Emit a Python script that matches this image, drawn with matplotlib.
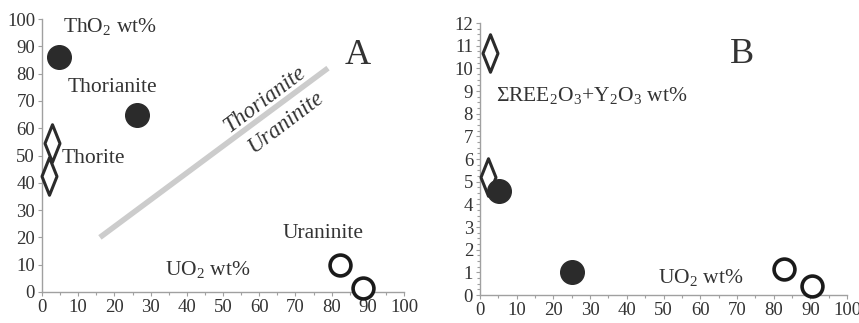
import numpy as np
import matplotlib
matplotlib.use('Agg')
from matplotlib import pyplot as plt
from matplotlib.path import Path
from matplotlib.ticker import MultipleLocator

plt.rcParams['font.family'] = ['Liberation Serif', 'DejaVu Serif']
plt.rcParams['mathtext.fontset'] = 'custom'
plt.rcParams['mathtext.rm'] = 'Liberation Serif'

# ---- panel A: ThO2 vs UO2 ----
thorite_uo2_a = [2.7, 2.0]
thorite_tho2_a = [54.6, 42.5]
thorianite_uo2_a = [4.7, 26.2]
thorianite_tho2_a = [86, 65]
uraninite_uo2_a = [82.3, 88.7]
uraninite_tho2_a = [9.9, 1.4]
divider_uo2 = [16, 79]
divider_tho2 = [20, 82]

# ---- panel B: REE2O3+Y2O3 vs UO2 ----
thorite_uo2_b = [2.7, 2.3]
thorite_ree_b = [10.66, 5.22]
thorianite_uo2_b = [5.3, 25.2]
thorianite_ree_b = [4.6, 1.03]
uraninite_uo2_b = [82.8, 90.5]
uraninite_ree_b = [1.13, 0.4]

diamond = Path([(0, 1), (0.4, 0), (0, -1), (-0.4, 0), (0, 1)],
               [Path.MOVETO, Path.LINETO, Path.LINETO, Path.LINETO, Path.CLOSEPOLY])

dark = '#2b2b2b'
axis_col = '#a0a0a0'
txt = '#333333'
fs = 15.5

fig = plt.figure(figsize=(8.59, 3.23), dpi=100)
W, H = 859, 323
axA = fig.add_axes([42 / W, 1 - 292 / H, (404 - 42) / W, (292 - 19) / H])
axB = fig.add_axes([480 / W, 1 - 295 / H, (847 - 480) / W, (295 - 23) / H])


def style(ax, ymax, ymaj, ymin):
    ax.set_xlim(0, 100)
    ax.set_ylim(0, ymax)
    ax.xaxis.set_major_locator(MultipleLocator(10))
    ax.xaxis.set_minor_locator(MultipleLocator(5))
    ax.yaxis.set_major_locator(MultipleLocator(ymaj))
    if ymin:
        ax.yaxis.set_minor_locator(MultipleLocator(ymin))
    for s in ['top', 'right']:
        ax.spines[s].set_visible(False)
    for s in ['left', 'bottom']:
        ax.spines[s].set_color(axis_col)
        ax.spines[s].set_linewidth(1.0)
    ax.tick_params(which='both', colors=axis_col, labelcolor=txt, labelsize=13.5,
                   width=0.8, pad=2)
    ax.tick_params(which='major', length=3)
    ax.tick_params(which='minor', length=2)
    ax.set_facecolor('none')
    for lab in ax.get_xticklabels() + ax.get_yticklabels():
        lab.set_clip_on(False)


def points(ax, tx, ty, rx, ry, ux, uy):
    ax.plot(tx, ty, linestyle='none', marker=diamond, ms=27, mfc='white',
            mec=dark, mew=2.2, clip_on=False, zorder=4)
    ax.plot(rx, ry, linestyle='none', marker='o', ms=17, mfc=dark,
            mec=dark, clip_on=False, zorder=4)
    ax.plot(ux, uy, linestyle='none', marker='o', ms=15, mfc='white',
            mec='#1a1a1a', mew=2.6, clip_on=False, zorder=4)


# panel A
style(axA, 100, 10, None)
axA.plot(divider_uo2, divider_tho2, color='#cccccc', lw=4, solid_capstyle='butt', zorder=2)
points(axA, thorite_uo2_a, thorite_tho2_a, thorianite_uo2_a, thorianite_tho2_a,
       uraninite_uo2_a, uraninite_tho2_a)
axA.text(5.8, 97, r'ThO$_2$ wt%', fontsize=fs, color=txt, va='center')
axA.text(7.0, 75, 'Thorianite', fontsize=fs, color=txt, va='center')
axA.text(5.3, 49, 'Thorite', fontsize=fs, color=txt, va='center')
axA.text(66.5, 21.5, 'Uraninite', fontsize=fs, color=txt, va='center')
axA.text(34, 8, r'UO$_2$ wt%', fontsize=fs, color=txt, va='center')
axA.text(83.5, 86.5, 'A', fontsize=26, color=txt, va='center')
axA.text(61.5, 70.5, 'Thorianite', fontsize=16.5, color=txt, style='italic',
         rotation=37, ha='center', va='center')
axA.text(67.5, 62.5, 'Uraninite', fontsize=16.5, color=txt, style='italic',
         rotation=37, ha='center', va='center')

# panel B
style(axB, 12, 1, 0.25)
points(axB, thorite_uo2_b, thorite_ree_b, thorianite_uo2_b, thorianite_ree_b,
       uraninite_uo2_b, uraninite_ree_b)
axB.text(4.3, 8.75, r'$\Sigma$REE$_2$O$_3$+Y$_2$O$_3$ wt%', fontsize=fs, color=txt, va='center')
axB.text(48.5, 0.75, r'UO$_2$ wt%', fontsize=fs, color=txt, va='center')
axB.text(68, 10.6, 'B', fontsize=26, color=txt, va='center')

fig.savefig('out.png', dpi=100)
